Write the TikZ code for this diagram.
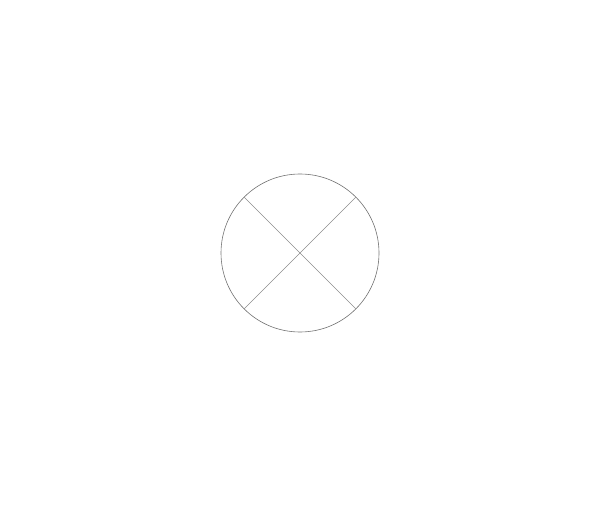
\documentclass[tikz,border=0pt]{standalone}
\begin{document}
\begin{tikzpicture}[x=1bp,y=-1bp,
  ring/.style={circle,draw=black!55,line width=0.6bp,minimum size=158bp,inner sep=0pt},
  cross/.style={draw=black!45,line width=0.6bp}]
\useasboundingbox (0,0) rectangle (600,506);
\node[ring] (c) at (300,253) {};
\draw[cross] (c.135) -- (c.-45);
\draw[cross] (c.45) -- (c.-135);
\end{tikzpicture}
\end{document}
